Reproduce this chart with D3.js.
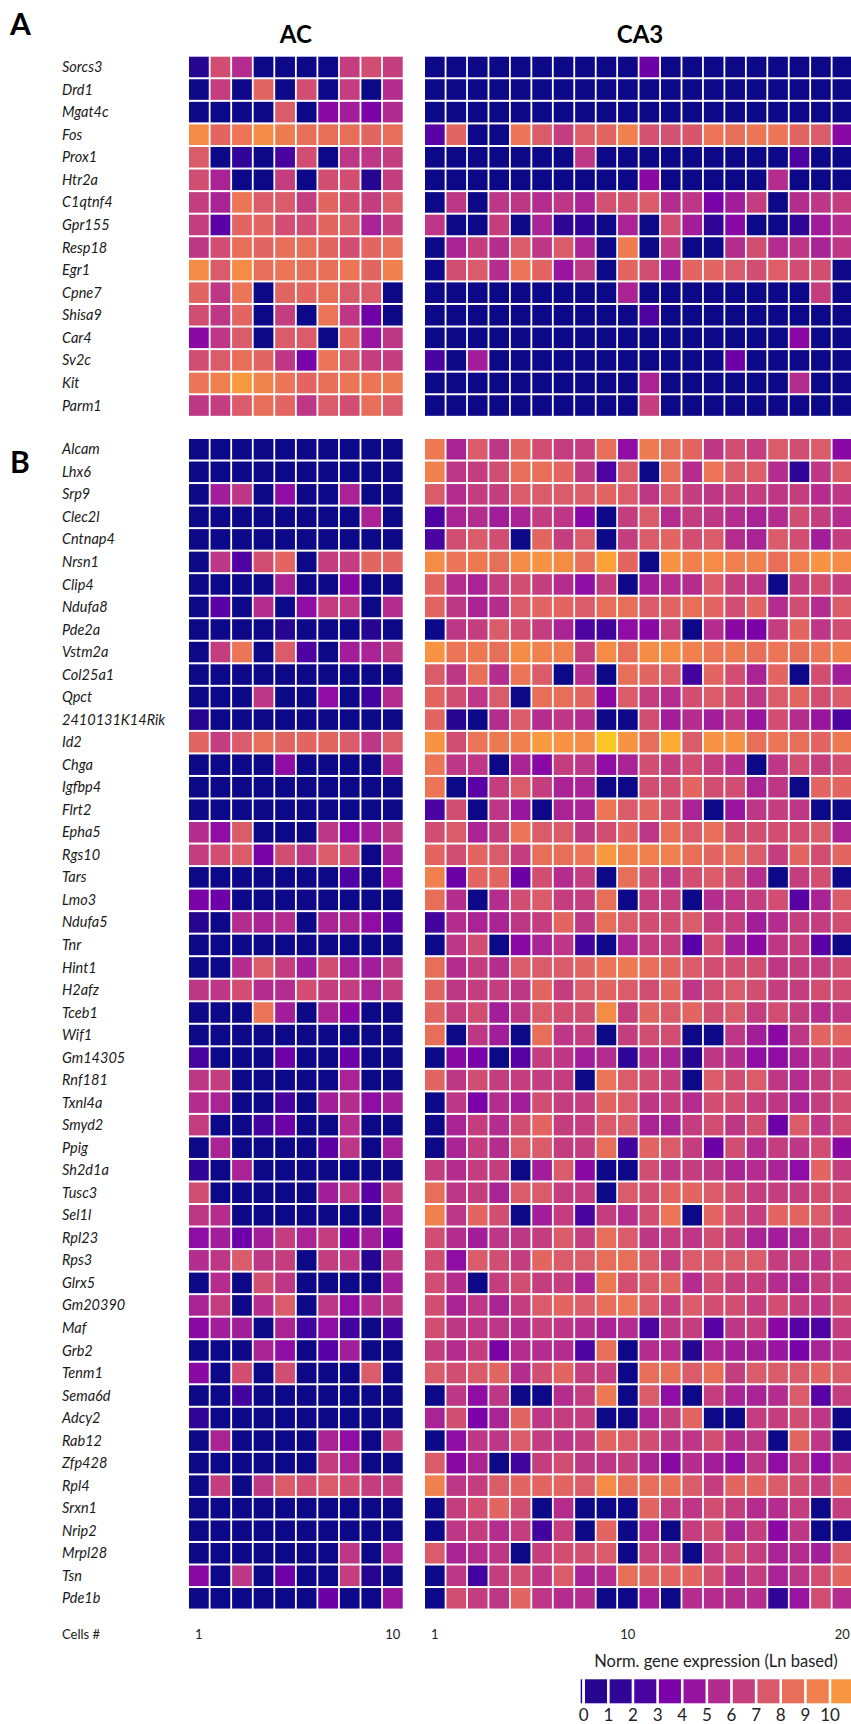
<!DOCTYPE html>
<html>
<head>
<meta charset="utf-8">
<script src="https://cdn.jsdelivr.net/npm/d3@7"></script>
<style>
  body { margin: 0; background: #fff; }
  svg { display: block; }
</style>
</head>
<body>
<svg id="chart" width="851" height="1724"></svg>
<script>
// ---- Gene lists ----
const genesA = ["Sorcs3","Drd1","Mgat4c","Fos","Prox1","Htr2a","C1qtnf4","Gpr155",
  "Resp18","Egr1","Cpne7","Shisa9","Car4","Sv2c","Kit","Parm1"];

const genesB = ["Alcam","Lhx6","Srp9","Clec2l","Cntnap4","Nrsn1","Clip4","Ndufa8","Pde2a",
  "Vstm2a","Col25a1","Qpct","2410131K14Rik","Id2","Chga","Igfbp4","Flrt2","Epha5","Rgs10",
  "Tars","Lmo3","Ndufa5","Tnr","Hint1","H2afz","Tceb1","Wif1","Gm14305","Rnf181","Txnl4a",
  "Smyd2","Ppig","Sh2d1a","Tusc3","Sel1l","Rpl23","Rps3","Glrx5","Gm20390","Maf","Grb2",
  "Tenm1","Sema6d","Adcy2","Rab12","Zfp428","Rpl4","Srxn1","Nrip2","Mrpl28","Tsn","Pde1b"];

// ---- Normalized expression (Ln based), one row per gene, one value per cell ----
const exprA_AC = [
  [0.5,7.1,5.6,0,0,0,0,6.5,7.1,6.5],
  [0,6.5,0,8.1,0,7.1,0,6.5,0,5.6],
  [0,0,0,0,7.6,0,4,4.9,3.5,5.5],
  [10.1,8.1,8.9,10.1,9.3,8.6,8.6,8.6,8.1,8.6],
  [7.6,0,1.5,0,2.5,7.1,0,6.1,6.1,6.5],
  [7.1,5.2,0,0,6.5,0,7.1,7.1,0.5,6.5],
  [6.5,5.2,8.9,7.6,7.6,6.5,8.1,7.1,6.5,7.6],
  [6.5,2.8,8.1,8.1,7.1,7.1,8.1,7.6,5.2,6.5],
  [6.1,7.1,8.6,8.1,8.6,8.6,8.1,7.1,8.1,8.6],
  [10.1,7.6,10.1,8.6,8.9,8.6,8.6,8.9,8.1,9.5],
  [8.1,6.1,8.9,0,8.1,8.1,8.6,7.6,7.6,0],
  [7.1,6.1,8.1,0,6.5,0,8.9,6.1,3.2,0],
  [4,6.1,7.6,0,7.6,7.6,0,8.1,4.6,6.1],
  [7.1,7.6,8.6,8.1,6.1,3.5,8.9,7.6,6.5,6.5],
  [8.9,9.5,10.6,9.6,8.9,8.1,8.6,8.9,8.9,9.1],
  [6.1,6.5,7.6,8.6,8.1,6.1,7.6,7.1,8.6,7.6]
];

const exprA_CA3 = [
  [0,0,0,0,0,0,0,0,0,0,3.2,0,0,0,0,0,0,0,0,0],
  [0,0,0,0,0,0,0,0,0,0,0,0,0,0,0,0,0,0,0,0],
  [0,0,0,0,0,0,0,0,0,0,0,0,0,0,0,0,0,0,0,0],
  [2.8,8.1,0,0,8.9,7.6,6.5,7.8,8.1,9.5,7.2,7.2,7.4,8.9,8.6,8.9,8.9,8.1,7.6,4],
  [0,0,0,0,0,0,0,6.1,0,0,0,0,0,0,0,0,0,2.6,0,0],
  [0,0,0,0,0,0,0,0,0,0,4,0,0,0,0,0,5.6,0,0,0],
  [0,6.1,0,6.1,6.1,5.6,6.1,5.2,7.2,7.2,7.6,5.6,6.1,3.5,4.9,6.5,0,5.6,6.1,6.5],
  [6.1,0,0,6.5,0,5.2,1.3,1.5,0,5.2,0,7.1,4.9,1.3,4,0,0,1.3,4.8,5.6],
  [0,5.2,6.5,5.6,7.6,6.1,7.6,5.2,0,9.3,0,6.1,0,0,5.6,7.1,5.6,6.1,5.2,6.1],
  [0,7.1,7.6,5.6,8.9,8.1,4.6,6.1,0,8.1,7.1,4.9,8.1,8.1,7.6,7.1,7.8,7.1,7.1,0],
  [0,0,0,0,0,0,0,0,0,5.2,0,0,0,0,0,0,0,0,6.5,0],
  [0,0,0,0,0,0,0,0,0,0,2.6,0,0,0,0,0,0,0,0,0],
  [0,0,0,0,0,0,0,0,0,0,0,0,0,0,0,0,0,4,0,0],
  [2.5,0,4.9,0,0,0,0,0,0,0,0,0,0,0,3.2,0,0,0,0,0],
  [0,0,0,0,0,0,0,0,0,0,5.2,0,0,0,0,0,0,5.6,0,0],
  [0,0,0,0,0,0,0,0,0,0,6.5,0,0,0,0,0,0,0,0,0]
];

const exprB_AC = [
  [0,0,0,0,0,0,0,0,0,0],
  [0,0,0,0,0,0,0,0,0,0],
  [0,4.9,6.1,0,4.2,0,0,5.2,0,0],
  [0,0,0,0,0,0,0,0,5.2,0],
  [0,0,0,0,0,0,0,0,0,0],
  [0,6.1,2.6,7.1,8.1,0,6.5,6.5,8.1,8.1],
  [0,0,0,0,5.2,0,0,4,0,0],
  [0,2.8,0,5.6,0,4.2,6.5,6.1,0,5.6],
  [0,0,0,0,0.5,0,0,0,0.5,0],
  [0,6.5,8.9,0,7.6,2.6,0,4.9,5.2,6.1],
  [0,0,0,0,0,0,0,0,0,0],
  [0,0,0,6.1,0,0,4.2,0,2.2,5.6],
  [0.5,0,0,0,0,0,0,0,0,0],
  [8.1,6.5,7.6,8.6,8.1,8.1,8.1,7.6,6.1,7.6],
  [0,0,0,0,4.2,0,0,0,0,5.6],
  [0,0,0,0,0,0,0,0,0,0],
  [0,0,0,0,0,0,0,0,0,0],
  [5.6,4.2,7.6,0,0,0,6.1,4.2,4.9,6.1],
  [6.5,7.1,7.6,3.5,7.1,6.1,7.6,7.1,0,4.9],
  [0,0,0,0,0,0,0,2.6,0,4.2],
  [3.5,3.2,0,0,0,0,0,0,0,0],
  [0.5,0,5.6,5.2,5.6,0,5.2,5.2,4.2,2.8],
  [0,0,0,0,0,0,0,0,0,0],
  [0,0,5.6,7.6,6.5,4.9,7.1,5.2,4.9,6.1],
  [6.1,6.1,7.1,5.6,5.6,7.1,6.5,6.5,5.2,6.5],
  [0,0,0,8.9,4.9,0,5.2,4,0,0],
  [0,0,0,0,0,0,0,0,0,0],
  [2.5,0,0,0,3.2,0,0,3.2,0,0],
  [6.1,6.5,0,0,0,0,0,5.2,0,0],
  [5.6,5.2,0,0,2.5,0,4.9,5.6,4.2,4.9],
  [6.5,0,0,2.2,3.2,0,0,5.6,0,0],
  [0,5.2,0,0,0,0,2.8,6.1,0,4.9],
  [1.5,0,5.2,0,0,0,0,0,0,0],
  [7.1,0,0,0,0,0,4.9,6.1,2.8,6.5],
  [6.1,5.6,0,0,0,0,0,0,0,5.2],
  [4.2,4.9,3.2,4.9,6.5,5.2,6.5,4,4.9,3.5],
  [5.6,6.1,7.6,6.1,6.5,0,6.5,6.1,0.5,6.1],
  [0,5.6,0,7.1,6.1,0,0,0,0,4.9],
  [5.2,6.5,0,5.6,7.6,0,6.1,4.2,5.6,6.1],
  [4,4.9,4.9,0,5.2,2.2,4.2,2.2,0,2.2],
  [0,0,0,5.2,4.2,0,2.8,4.9,0,0],
  [4,0,7.1,0,7.1,0,0,0,7.6,0],
  [0,0,2.2,0,0,0,0,0,0,0],
  [1.5,0,0,0,0,0,0,0,0,0],
  [0,5.2,0,0,0,0,5.2,4.2,0,6.5],
  [0,0,0,0,0,0,6.5,5.2,0,0],
  [0,6.5,0,6.1,7.6,7.1,7.6,7.1,6.5,6.5],
  [0,0,0,0,0,0,0,0,0,0],
  [0,0,0,0,0,0,0,0,0,0],
  [0,0,0,0,0,0,0,6.1,0,5.2],
  [4,0,6.1,0,3.2,0,0,6.5,0.5,0],
  [0,0,0,0,0,0,3.2,0,0,4.6]
];

const exprB_CA3 = [
  [9.1,5.2,7.6,6.1,8.1,7.1,6.5,6.5,8.6,4.2,9.3,8.6,8.1,6.1,7.1,6.5,7.6,7.1,7.6,4],
  [9.5,6.1,6.5,7.1,8.6,8.6,8.1,6.1,2.6,7.6,0,8.6,5.6,8.9,7.6,7.8,5.6,1.5,6.1,7.6],
  [7.6,5.6,6.5,6.5,7.6,7.6,7.6,7.6,8.1,7.6,6.1,7.6,6.5,6.1,6.5,6.5,6.1,6.5,5.6,6.1],
  [2.6,5.2,5.6,4.9,5.2,6.5,6.1,4,0,6.5,7.6,5.6,6.5,6.1,5.6,5.2,5.6,7.1,6.5,5.6],
  [2.5,7.1,7.6,7.1,0,8.1,6.5,7.6,0,6.5,7.6,8.1,7.1,7.6,5.6,5.2,7.6,7.1,4.9,6.5],
  [10.1,8.9,9.1,8.6,10.1,10.4,10.1,8.6,10.8,8.1,0,10.4,9.5,10.1,9.5,9.5,8.6,9.5,10.4,10.1],
  [8.1,5.6,5.2,6.5,7.1,6.5,5.6,4.2,6.5,0,4.9,5.6,5.6,7.6,6.5,6.1,0,6.5,7.1,6.5],
  [8.1,6.1,5.2,5.6,7.6,8.1,8.1,7.6,8.6,8.6,7.6,8.1,8.6,8.1,7.1,8.1,5.6,7.1,5.6,7.6],
  [0,6.1,6.5,7.6,7.1,6.5,5.2,2.6,2.2,4.2,4,6.5,0,5.6,4,3.5,6.5,8.1,6.1,7.1],
  [10.4,8.9,9.1,8.6,10.1,9.5,9.5,6.5,10.1,8.6,10.1,10.1,9.5,8.9,9.1,8.6,8.9,8.6,8.9,9.5],
  [7.6,6.1,8.6,5.6,8.9,7.6,0,5.6,0,8.6,8.1,7.6,2.2,8.1,7.1,5.2,8.1,0,7.1,4.9],
  [8.1,7.1,6.1,7.6,0,8.6,8.6,8.1,4,7.6,6.5,5.6,7.1,7.6,7.1,6.1,7.6,8.1,7.1,7.6],
  [8.1,0.5,0,5.6,7.6,5.6,6.1,5.6,0,0,7.1,4.9,5.6,4.9,6.1,4.6,7.1,5.6,4.6,2.6],
  [10.4,7.1,8.9,9.1,9.5,10.6,10.4,10.1,11.6,10.4,8.6,11,7.6,10.4,10.4,8.6,8.9,8.6,8.1,9.1],
  [8.9,6.1,6.1,0,5.2,4,6.5,6.1,4.2,5.2,7.1,6.5,7.1,6.5,5.6,0,6.1,7.1,6.5,7.1],
  [8.9,0,2.8,6.5,7.6,6.5,5.2,5.2,0,0,7.1,7.1,8.1,7.1,7.1,5.2,6.1,0,8.1,8.1],
  [2.5,7.1,0,6.1,4.6,0,5.2,5.2,8.9,7.6,8.1,7.1,5.2,0,4.6,6.1,6.5,6.1,0,0],
  [7.1,7.6,5.2,6.5,8.9,7.6,7.6,6.1,7.1,8.1,6.1,8.6,7.6,8.6,7.1,7.1,7.1,7.1,7.6,5.2],
  [8.1,7.1,8.1,7.6,6.5,8.6,8.6,8.9,10.6,9.5,9.5,9.5,8.6,8.1,8.6,7.6,6.5,8.1,7.1,8.1],
  [9.5,3.2,8.1,8.1,3.2,7.1,5.6,6.5,0,8.6,7.1,6.1,7.1,7.6,7.1,5.6,0,6.5,7.1,0],
  [8.6,5.6,0,5.6,7.1,7.6,6.5,6.5,8.6,0,6.5,6.5,0,5.6,6.1,6.5,7.1,2.8,5.2,7.6],
  [2.2,5.6,5.2,5.2,6.1,6.5,8.1,6.1,8.6,7.6,7.1,7.1,7.6,6.5,6.5,4.9,5.6,6.5,6.5,7.1],
  [0,6.1,7.1,0,4,5.2,6.1,2.2,0,5.2,6.5,6.5,2.8,7.1,4.9,4,6.1,6.5,2.8,0],
  [8.6,5.6,6.5,5.6,7.6,7.6,7.6,8.1,8.9,9.1,8.6,8.1,7.6,7.1,7.1,7.1,6.1,6.5,6.5,7.1],
  [8.1,6.1,6.5,6.5,6.1,8.1,6.5,7.6,8.1,7.6,7.1,8.1,6.1,7.1,7.6,7.1,6.5,6.5,7.1,7.1],
  [8.1,6.5,7.1,4.9,6.1,7.6,7.1,7.1,10.1,6.5,8.1,7.6,8.1,7.1,7.6,6.5,7.1,6.5,5.6,6.1],
  [8.6,0,6.1,4.9,0,8.6,6.1,6.5,0,6.5,7.1,7.1,0,0,6.1,4.9,4,6.1,8.1,8.1],
  [0,4,3.5,0,2.8,6.5,6.1,4.9,5.6,1.5,5.6,5.2,0.5,6.1,5.6,4.2,4.2,5.2,6.1,6.1],
  [8.1,6.1,7.1,6.5,6.5,6.5,6.5,0,8.9,7.6,7.1,6.5,0,7.6,7.1,7.6,6.1,5.6,6.5,7.1],
  [0,6.1,3.5,5.6,4.9,7.1,6.5,6.5,8.1,7.6,6.1,6.5,5.6,7.1,7.1,6.5,6.1,5.2,6.5,7.1],
  [0,5.2,6.5,5.6,7.1,8.1,6.5,6.5,7.6,7.6,5.2,5.2,6.5,7.1,6.1,7.1,3.2,7.6,6.1,7.1],
  [0,5.2,6.5,5.6,7.6,7.6,6.5,6.5,8.6,2.2,8.1,7.6,6.5,3.2,7.1,5.6,6.5,6.1,7.1,4],
  [6.5,5.6,6.5,6.5,0,4.9,7.6,4,0,0,7.1,6.1,6.5,6.1,5.2,5.6,5.2,4.2,8.1,6.5],
  [8.6,6.1,6.5,5.2,7.6,7.6,6.5,6.5,0,7.6,7.1,8.1,8.1,7.6,7.1,6.5,6.5,6.5,7.1,7.1],
  [9.5,6.1,8.1,7.1,0,4.9,6.5,2.5,6.5,5.6,7.1,8.9,0,8.1,7.1,6.5,8.1,8.1,7.6,6.5],
  [7.1,5.6,4.9,6.1,6.1,6.5,7.6,6.5,8.6,7.6,6.1,6.5,6.1,7.1,6.5,5.2,4.9,5.2,6.5,7.1],
  [7.1,4.2,7.6,7.1,6.5,8.1,7.6,7.6,8.6,8.6,7.6,6.5,7.6,7.6,7.6,7.6,6.5,6.5,6.1,7.1],
  [7.1,5.6,0,6.5,7.1,6.5,6.5,5.2,9.1,7.1,7.6,8.1,5.6,7.1,6.5,6.5,5.6,5.2,6.5,6.5],
  [7.1,5.2,6.1,5.2,6.5,7.6,8.1,7.6,8.6,8.9,7.6,6.5,7.6,7.1,7.1,6.5,7.1,6.5,6.1,7.1],
  [7.1,6.1,6.1,6.1,5.6,6.5,6.1,5.6,5.2,5.6,2.6,6.1,6.5,2.8,6.1,6.5,4,2.8,2.6,6.5],
  [6.5,5.6,6.5,3.5,5.6,5.6,5.6,2.6,8.6,0,5.6,5.6,0.5,5.2,4.9,4.9,4.6,3.5,5.2,6.1],
  [7.6,7.1,7.6,8.1,5.6,7.1,8.1,6.5,6.5,0,8.6,8.6,7.6,8.6,6.5,7.6,7.6,7.6,8.1,7.6],
  [0,6.1,4.2,6.1,0,0,5.6,6.5,9.1,0,7.6,4.2,0,6.5,5.2,5.2,5.6,7.6,2.8,6.5],
  [5.2,7.1,3.5,5.2,8.1,6.1,6.5,6.5,0,0,5.2,6.5,8.1,0,0,6.5,6.5,7.1,6.1,0],
  [0,4.2,6.1,6.1,7.6,6.5,6.1,6.5,8.1,7.6,7.1,6.1,6.1,7.1,5.6,6.1,0,8.1,6.1,0],
  [7.6,4,5.2,0,2.2,6.5,7.1,6.1,6.1,6.5,5.2,4,5.6,4.9,4.2,6.1,4.2,6.5,4.2,6.1],
  [9.5,6.1,6.5,7.6,8.1,8.1,8.1,7.6,10.1,8.6,8.6,8.6,7.6,6.5,8.1,8.1,7.6,7.1,6.5,8.1],
  [0,6.5,7.1,8.1,7.1,0,5.6,0,0,0,8.1,6.5,6.1,7.1,6.5,5.6,5.6,6.5,0,6.5],
  [0,6.1,6.5,5.6,6.5,2.2,6.5,0,8.1,0,5.2,0,6.5,7.1,5.2,6.5,4,6.1,0,0],
  [7.6,5.2,5.6,6.1,0,6.5,7.1,7.1,7.6,0,6.5,6.1,0,6.1,7.1,6.5,5.2,5.6,4.9,7.6],
  [0,6.1,2.2,6.5,7.1,6.1,7.6,5.2,5.6,8.6,8.1,8.1,8.1,7.1,5.6,6.5,5.2,6.1,7.1,8.1],
  [0,7.1,6.5,6.1,8.1,6.1,5.6,5.6,0,0,4.9,0,5.6,5.6,5.6,5.6,1.5,4.6,7.1,5.6]
];

// ---- Axis / legend labels ----
const cellTicksAC = [1, 10];
const cellTicksCA3 = [1, 10, 20];
const legendSteps = [0,1,2,3,4,5,6,7,8,9,10];

// ---- Colour: expression -> position along the plasma map ----
const plasmaPos = d3.scaleLinear()
  .domain([0, 0.5, 1.5, 2.5, 3.5, 4.5, 5.5, 6.5, 7.5, 8.5, 9.5, 10.5, 11.6])
  .range([0, 0.04, 0.065, 0.12, 0.245, 0.32, 0.40, 0.47, 0.56, 0.63, 0.69, 0.75, 0.88])
  .clamp(true);
const colorOf = v => d3.interpolatePlasma(plasmaPos(v));

const svg = d3.select("#chart");
const font = "Lato, 'Open Sans', sans-serif";

// ---- Column scales ----
const xAC = d3.scaleBand().domain(d3.range(10)).range([189, 189 + 10 * 21.55]);
const xCA3 = d3.scaleBand().domain(d3.range(20)).range([425, 425 + 20 * 21.45]);

// ---- Row scales for the two panels ----
const yA = d3.scaleBand().domain(genesA).range([56.7, 56.7 + genesA.length * 22.57]);
const yB = d3.scaleBand().domain(genesB).range([439, 439 + genesB.length * 22.53]);

function drawBlock(g, genes, yScale, xScale, values) {
  genes.forEach((gene, r) => {
    g.selectAll(null)
      .data(values[r])
      .join("rect")
      .attr("x", (d, i) => xScale(i))
      .attr("y", yScale(gene))
      .attr("width", xScale.bandwidth() - 1.8)
      .attr("height", yScale.bandwidth() - 2)
      .attr("fill", d => colorOf(d));
  });
}

function drawPanel(genes, yScale, ac, ca3) {
  const g = svg.append("g");
  drawBlock(g.append("g"), genes, yScale, xAC, ac);
  drawBlock(g.append("g"), genes, yScale, xCA3, ca3);
  g.append("g")
    .selectAll("text")
    .data(genes)
    .join("text")
    .attr("x", 62)
    .attr("y", d => yScale(d) + (yScale.bandwidth() - 2) / 2)
    .attr("dy", "0.35em")
    .attr("font-family", font)
    .attr("font-style", "italic")
    .attr("font-size", 14.5)
    .attr("fill", "#1a1a1a")
    .text(d => d);
}

drawPanel(genesA, yA, exprA_AC, exprA_CA3);
drawPanel(genesB, yB, exprB_AC, exprB_CA3);

// ---- Panel letters and region titles ----
svg.append("text").attr("x", 10).attr("y", 35)
  .attr("font-family", font).attr("font-weight", 700).attr("font-size", 30)
  .text("A");
svg.append("text").attr("x", 10).attr("y", 473)
  .attr("font-family", font).attr("font-weight", 700).attr("font-size", 30)
  .text("B");

svg.append("text")
  .attr("x", xAC.range()[0] + (xAC.range()[1] - xAC.range()[0] - 1.8) / 2).attr("y", 43)
  .attr("text-anchor", "middle")
  .attr("font-family", font).attr("font-weight", 700).attr("font-size", 24)
  .text("AC");
svg.append("text")
  .attr("x", 640).attr("y", 43)
  .attr("text-anchor", "middle")
  .attr("font-family", font).attr("font-weight", 700).attr("font-size", 24)
  .text("CA3");

// ---- Cell index axes ----
const axisY = 1627;
function cellAxis(scale, ticks) {
  const ax = svg.append("g")
    .attr("transform", `translate(0,${axisY})`)
    .call(d3.axisBottom(scale)
      .tickValues(ticks.map(t => t - 1))
      .tickFormat(d => d + 1)
      .tickSize(0)
      .tickPadding(3));
  ax.select(".domain").remove();
  ax.selectAll("text")
    .attr("font-family", font)
    .attr("font-size", 13)
    .attr("fill", "#222")
    .attr("transform", "translate(-0.9,0)");
}
cellAxis(xAC, cellTicksAC);
cellAxis(xCA3, cellTicksCA3);

svg.append("text").attr("x", 62).attr("y", 1639)
  .attr("font-family", font).attr("font-size", 13).attr("fill", "#222")
  .text("Cells #");

// ---- Colour legend ----
const lx = d3.scaleLinear().domain([0, 10]).range([583.7, 830]);
const legend = svg.append("g");
legend.append("text")
  .attr("x", 716).attr("y", 1667)
  .attr("text-anchor", "middle")
  .attr("font-family", font).attr("font-size", 16.5).attr("fill", "#222")
  .text("Norm. gene expression (Ln based)");

legend.append("rect")
  .attr("x", 580.7).attr("y", 1679.3)
  .attr("width", 1.4).attr("height", 24)
  .attr("fill", colorOf(0));

legend.selectAll("rect.box")
  .data(legendSteps)
  .join("rect")
  .attr("class", "box")
  .attr("x", d => lx(d) + 1.3)
  .attr("y", 1679.3)
  .attr("width", lx(1) - lx(0) - 2.6)
  .attr("height", 24)
  .attr("fill", d => colorOf(d + 0.5));

legend.selectAll("text.tick")
  .data(legendSteps)
  .join("text")
  .attr("class", "tick")
  .attr("x", d => lx(d))
  .attr("y", 1721)
  .attr("text-anchor", "middle")
  .attr("font-family", font).attr("font-size", 17).attr("fill", "#222")
  .text(d => d);
</script>
</body>
</html>
